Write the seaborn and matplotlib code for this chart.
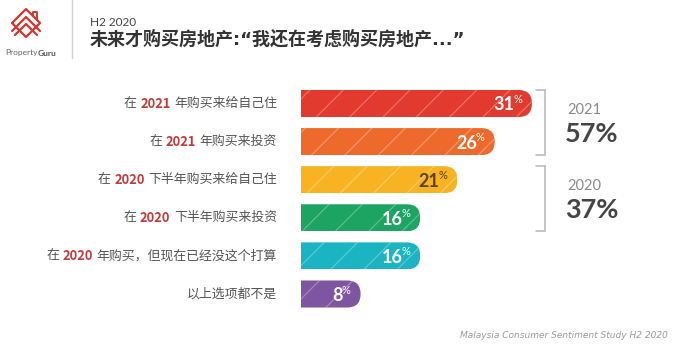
import matplotlib
matplotlib.use("Agg")
import matplotlib.pyplot as plt
from matplotlib.patches import FancyBboxPatch
import seaborn as sns

# ---- data ----
categories = [
    "在 2021 年购买来给自己住",
    "在 2021 年购买来投资",
    "在 2020 下半年购买来给自己住",
    "在 2020 下半年购买来投资",
    "在 2020 年购买，但现在已经没这个打算",
    "以上选项都不是",
]
years = ["2021", "2021", "2020", "2020", "2020", None]
values = [31, 26, 21, 16, 16, 8]
colors = ["#E23A2E", "#EE6A2C", "#F8B323", "#1DA462", "#1AB4C2", "#7E55A0"]
value_text_colors = ["white", "white", "#5A4315", "white", "white", "white"]
group_years = ["2021", "2020"]
group_totals = [57, 37]
group_rows = [(0, 1), (2, 3)]

title_small = "H2 2020"
title_main = "未来才购买房地产:“我还在考虑购买房地产...”"
footer = "Malaysia Consumer Sentiment Study H2 2020"

W, H = 679, 348
DPI = 100

sns.set_style("white")
plt.rcParams["font.family"] = ["Noto Sans CJK SC", "DejaVu Sans"]
plt.rcParams["hatch.linewidth"] = 0.9

fig = plt.figure(figsize=(W / DPI, H / DPI), dpi=DPI)
fig.patch.set_facecolor("white")


def fx(px):
    return px / W


def fy(py):
    return 1 - py / H


# ---- bar axes (pixel layout) ----
ax_left, ax_right = 301, 679
row_px = 38.1
first_center = 103.5
ax_top = first_center - row_px / 2
ax_bottom = ax_top + row_px * len(categories)
ax = fig.add_axes([fx(ax_left), fy(ax_bottom), fx(ax_right - ax_left),
                   (ax_bottom - ax_top) / H])

bar_h = 0.71
px_per_unit = 7.45
sns.barplot(x=values, y=categories, hue=categories, palette=colors,
            legend=False, orient="h", width=bar_h, saturation=1,
            ax=ax, linewidth=0)
ax.set_xlim(0, (ax_right - ax_left) / px_per_unit)
ax.set_ylim(len(categories) - 0.5, -0.5)
ax.set_axis_off()

# round the right end of each bar and add a light diagonal hatch
r = (bar_h * row_px / 2) / px_per_unit
aspect = (bar_h / 2) / r
for bar in list(ax.patches):
    x0, y0 = bar.get_x(), bar.get_y()
    w, h = bar.get_width(), bar.get_height()
    shape = FancyBboxPatch((x0 - r, y0), w + r, h,
                           boxstyle=f"round,pad=0,rounding_size={r * 0.999}",
                           mutation_aspect=aspect, transform=ax.transData)
    bar.set_edgecolor((1, 1, 1, 0.28))
    bar.set_linewidth(0)
    bar.set_hatch("/")
    bar.set_clip_path(shape)

fig.canvas.draw()
renderer = fig.canvas.get_renderer()

# value labels: bold number with a small raised percent sign
for i, (v, tc) in enumerate(zip(values, value_text_colors)):
    pct = ax.annotate("%", xy=(v, i), xytext=(-10, 4), textcoords="offset pixels",
                      ha="right", va="center", fontsize=8, color=tc,
                      family=["Lato", "DejaVu Sans"])
    pw = pct.get_window_extent(renderer).width
    ax.annotate(str(v), xy=(v, i), xytext=(-10 - pw + 1.0, -1.5),
                textcoords="offset pixels", ha="right", va="center",
                fontsize=13, fontweight="bold", color=tc,
                family=["Lato", "DejaVu Sans"])

# ---- category labels with the year highlighted ----
label_right = 277
label_fs = 9.3
for i, (cat, yr) in enumerate(zip(categories, years)):
    yc = fy(first_center + i * row_px)
    if yr:
        pre, post = cat.split(" " + yr + " ")
        segs = [(pre, "#555555", "normal"), (yr, "#C23A3C", "bold"),
                (post, "#555555", "normal")]
    else:
        segs = [(cat, "#555555", "normal")]
    x = label_right
    for s, c, wgt in reversed(segs):
        t = fig.text(fx(x), yc, s, ha="right", va="center", fontsize=label_fs,
                     color=c, fontweight=wgt)
        x -= t.get_window_extent(renderer).width + (3.5 if len(segs) > 1 else 0)

# ---- overlay for brackets, totals, header and logo ----
deco = fig.add_axes([0, 0, 1, 1], zorder=-1)
deco.set_xlim(0, W)
deco.set_ylim(H, 0)
deco.set_axis_off()

bracket_x = 545
for (a, b), yr, tot in zip(group_rows, group_years, group_totals):
    top = first_center + a * row_px - 13.5
    bot = first_center + b * row_px + 13.5
    deco.plot([bracket_x - 9, bracket_x, bracket_x, bracket_x - 9],
              [top, top, bot, bot], color="#B5B5B5", lw=1.1,
              solid_joinstyle="miter")
    mid = (top + bot) / 2
    deco.text(567, mid - 13, yr, ha="left", va="center", fontsize=10.5,
              color="#8A8A8A", family=["Lato", "DejaVu Sans"])
    deco.text(565, mid + 11, f"{tot}%", ha="left", va="center", fontsize=19.5,
              fontweight="bold", color="#454545", family=["Lato", "DejaVu Sans"])

# header
deco.plot([72, 72], [0, 58], color="#D0D0D0", lw=1)
deco.text(90, 22, title_small, ha="left", va="center", fontsize=8.5,
          color="#444444", family=["Lato", "DejaVu Sans"])
deco.text(90, 39.5, title_main, ha="left", va="center", fontsize=13,
          fontweight="bold", color="#333333",
          family=["DejaVu Sans", "Noto Sans CJK SC"])

# logo mark
red = "#D5342F"
deco.plot([12, 26, 40, 26, 12], [23, 9, 23, 37, 23], color=red, lw=1.6)
deco.plot([12, 26, 40], [31, 17, 31], color=red, lw=1.6)
deco.plot([15, 26, 37], [35, 24, 35], color=red, lw=1.6)
deco.plot([33, 33, 37, 37], [16, 12, 12, 20], color=red, lw=1.4)
t1 = deco.text(5, 53, "Property", ha="left", va="center", fontsize=6,
               color="#666666", family=["Lato", "DejaVu Sans"])
ext = t1.get_window_extent(renderer)
deco.text(5 + ext.width, 53, "Guru", ha="left", va="center", fontsize=6,
          fontweight="bold", color="#555555", family=["Lato", "DejaVu Sans"])

# footer
deco.text(668, 336, footer, ha="right", va="center", fontsize=6.5,
          style="italic", color="#9A9A9A", family="DejaVu Sans")

fig.savefig("out.png", dpi=DPI, facecolor="white")
